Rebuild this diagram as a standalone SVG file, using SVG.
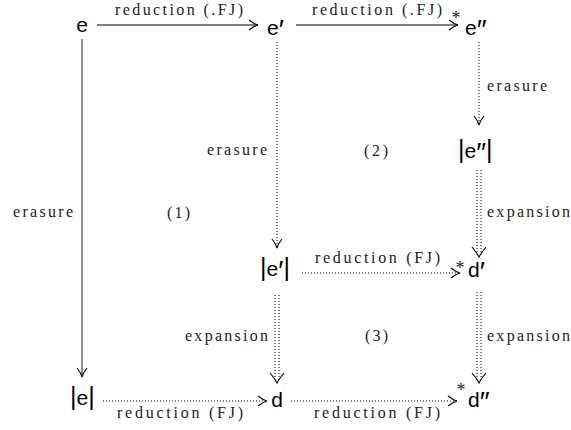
<svg xmlns="http://www.w3.org/2000/svg" width="571" height="430" viewBox="0 0 571 430">
<style>
.node{font-family:"Liberation Sans","Arial",sans-serif;font-size:21px;fill:#000}
.bar{font-size:25px}
.pr{font-size:28px}
.lbl{font-family:"Liberation Serif","DejaVu Serif",serif;font-size:16px;fill:#222}
.star{font-family:"Liberation Serif","DejaVu Serif",serif;font-size:18px;fill:#222}
.solid{stroke:#000;stroke-width:1;fill:none}
.dot{stroke:#000;stroke-width:1;fill:none;stroke-dasharray:1 2}
.ghost{stroke:none;fill:none}
</style>
<defs>
<marker id="ah" markerUnits="userSpaceOnUse" markerWidth="20" markerHeight="20" refX="0" refY="0" viewBox="-12 -10 14 20" orient="auto" overflow="visible">
<path d="M-9,-5 Q-4,-1 0,0 Q-4,1 -9,5" fill="none" stroke="#000" stroke-width="1.1"/>
</marker>
<marker id="ah2" markerUnits="userSpaceOnUse" markerWidth="20" markerHeight="20" refX="0" refY="0" viewBox="-12 -10 14 20" orient="auto" overflow="visible">
<path d="M-10,-7 Q-4,-2 0,0 Q-4,2 -10,7" fill="none" stroke="#000" stroke-width="1.1"/>
</marker>
</defs>
<g id="connectors">
<path class="solid" d="M97,25 H258" marker-end="url(#ah)"/>
<path class="solid" d="M296,25 H458" marker-end="url(#ah)"/>
<path d="M82,39 V377" stroke="#444" stroke-width="1.2" fill="none" marker-end="url(#ah)"/>
<path class="dot" d="M277,42 V248" marker-end="url(#ah)"/>
<path class="dot" d="M479,42 V125" marker-end="url(#ah)"/>
<path class="dot" d="M477,170 V255"/>
<path class="dot" d="M481,170 V255"/>
<path class="ghost" d="M479,170 V257" marker-end="url(#ah2)"/>
<path class="dot" d="M302,273 H460" marker-end="url(#ah)"/>
<path class="dot" d="M275,295 V381"/>
<path class="dot" d="M279,295 V381"/>
<path class="ghost" d="M277,295 V383" marker-end="url(#ah2)"/>
<path class="dot" d="M477,292 V381"/>
<path class="dot" d="M481,292 V381"/>
<path class="ghost" d="M479,292 V383" marker-end="url(#ah2)"/>
<path class="dot" d="M103,401 H267" marker-end="url(#ah)"/>
<path class="dot" d="M291,401 H457" marker-end="url(#ah)"/>
<text class="star" x="451.5" y="24">*</text>
<text class="star" x="455.5" y="274">*</text>
<text class="star" x="456.5" y="396">*</text>
<text class="lbl" x="115" y="15" textLength="128" lengthAdjust="spacing">reduction (.FJ)</text>
<text class="lbl" x="312" y="15" textLength="130" lengthAdjust="spacing">reduction (.FJ)</text>
<text class="lbl" x="487" y="91" textLength="60" lengthAdjust="spacing">erasure</text>
<text class="lbl" x="207" y="155" textLength="60" lengthAdjust="spacing">erasure</text>
<text class="lbl" x="13" y="217" textLength="60" lengthAdjust="spacing">erasure</text>
<text class="lbl" x="487" y="217" textLength="83" lengthAdjust="spacing">expansion</text>
<text class="lbl" x="185" y="341" textLength="83" lengthAdjust="spacing">expansion</text>
<text class="lbl" x="487" y="341" textLength="83" lengthAdjust="spacing">expansion</text>
<text class="lbl" x="315" y="263" textLength="125" lengthAdjust="spacing">reduction (FJ)</text>
<text class="lbl" x="117" y="418" textLength="126" lengthAdjust="spacing">reduction (FJ)</text>
<text class="lbl" x="314" y="418" textLength="126" lengthAdjust="spacing">reduction (FJ)</text>
<text class="lbl" x="167" y="218" textLength="23" lengthAdjust="spacing">(1)</text>
<text class="lbl" x="364" y="156" textLength="24" lengthAdjust="spacing">(2)</text>
<text class="lbl" x="365" y="341" textLength="23" lengthAdjust="spacing">(3)</text>
</g>
<g id="n-e"><text class="node" x="82" y="32" text-anchor="middle">e</text></g>
<g id="n-e1"><text class="node" x="267" y="35">e<tspan class="pr" dy="4">′</tspan></text></g>
<g id="n-e2"><text class="node" x="465" y="35">e<tspan class="pr" dy="4">″</tspan></text></g>
<g id="n-ae2"><text class="node" x="458" y="158"><tspan class="bar">|</tspan>e<tspan class="pr" dy="4">″</tspan><tspan class="bar" dy="-4">|</tspan></text></g>
<g id="n-ae1"><text class="node" x="260" y="276"><tspan class="bar">|</tspan>e<tspan class="pr" dy="4">′</tspan><tspan class="bar" dy="-4">|</tspan></text></g>
<g id="n-d1"><text class="node" x="468" y="277">d<tspan class="pr" dy="4">′</tspan></text></g>
<g id="n-ae"><text class="node" x="70" y="405"><tspan class="bar">|</tspan>e<tspan class="bar">|</tspan></text></g>
<g id="n-d"><text class="node" x="277" y="407" text-anchor="middle">d</text></g>
<g id="n-d2"><text class="node" x="468" y="407">d<tspan class="pr" dy="4">″</tspan></text></g>
</svg>
